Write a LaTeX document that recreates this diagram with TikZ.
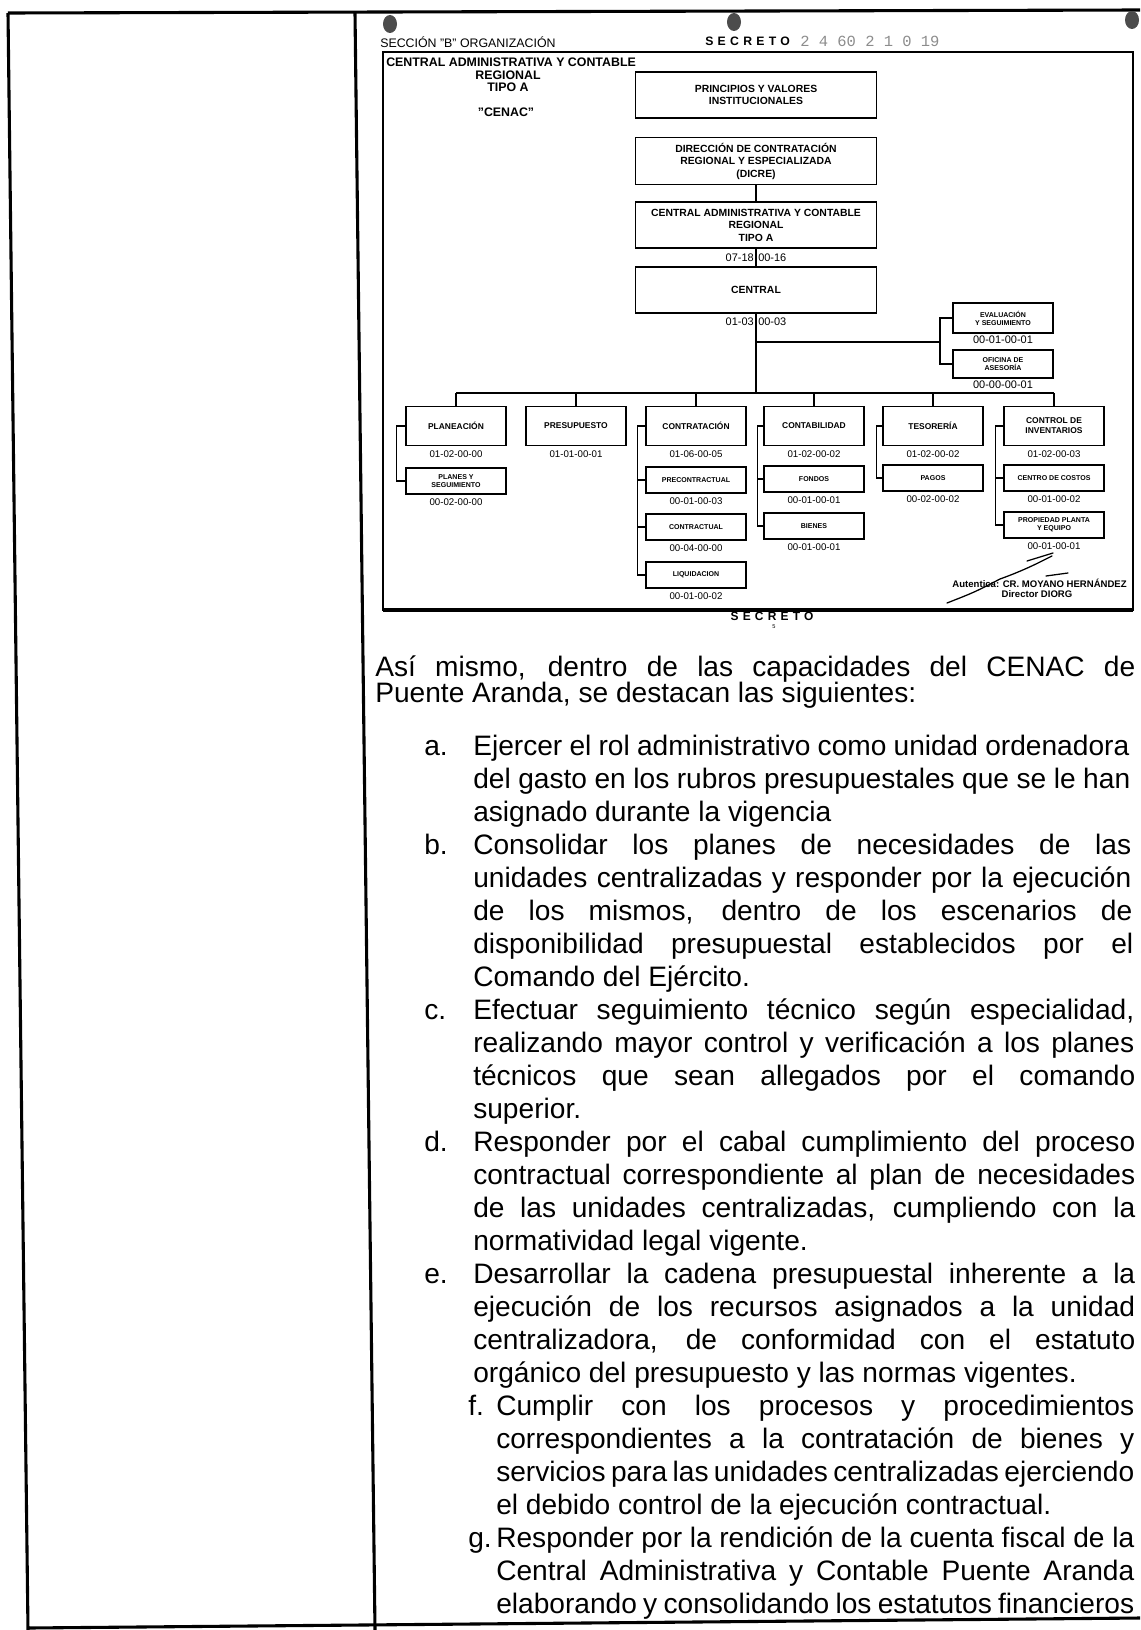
\documentclass[tikz,border=0pt]{standalone}
\usepackage{fontspec}
\setmainfont{Liberation Sans}
\newfontfamily\stampfont{Liberation Mono}
\newfontfamily\secretfont[LetterSpace=35]{Liberation Sans}
\usetikzlibrary{positioning}

\newlength\pxu
\setlength\pxu{0.025cm}
\newcommand{\jline}[2]{\makebox[#1\pxu][s]{#2}}

\tikzset{
  pagerule/.style={line width=2.2pt},
  chartline/.style={line width=1pt},
  unitbox/.style={draw, line width=1pt, inner sep=0pt, align=center,
    minimum width=100\pxu, minimum height=39\pxu,
    font=\bfseries\fontsize{6}{7.2}\selectfont},
  subbox/.style={unitbox, minimum height=26\pxu,
    font=\bfseries\fontsize{5}{5.8}\selectfont},
  staffbox/.style={subbox, minimum height=30\pxu},
  topbox/.style={unitbox, minimum width=241\pxu, minimum height=46\pxu,
    font=\bfseries\fontsize{7.4}{8.9}\selectfont},
  idcode/.style={inner sep=0pt, font=\fontsize{6.9}{7}\selectfont},
  bigcode/.style={idcode, font=\fontsize{7.8}{8}\selectfont},
  headline/.style={inner sep=0pt, font=\bfseries\fontsize{8.8}{9}\selectfont},
  bodytext/.style={anchor=base west, inner sep=0pt, font=\fontsize{20}{23}\selectfont},
  pen/.style={line width=0.9pt, line cap=round},
}

\begin{document}
\begin{tikzpicture}[x=0.025cm, y=-0.025cm]
  \useasboundingbox (0,0) rectangle (1140,1630);

  % page rules
  \draw[pagerule] (8,13) -- (28,1630);
  \draw[pagerule] (355,13) -- (375,1630);
  \draw[pagerule] (8,13) -- (1140,10);
  \draw[pagerule] (28,1628) -- (1140,1618);

  % punch marks and header
  \fill[black!70] (390,24) ellipse [x radius=7, y radius=9];
  \fill[black!70] (734,22) ellipse [x radius=7, y radius=9];
  \fill[black!70] (1132,20) ellipse [x radius=7, y radius=9];
  \node[anchor=west, inner sep=0pt, font=\fontsize{8.8}{9}\selectfont] (seccion) at (380,42) {SECCIÓN "B" ORGANIZACIÓN};
  \node[anchor=west, inner sep=0pt, font=\secretfont\bfseries\fontsize{8.7}{9}\selectfont] (secreto) at (705,41) {SECRETO};
  \node[anchor=west, inner sep=0pt, text=black!45, font=\stampfont\fontsize{11}{12}\selectfont] (folio) at (800,41) {2 4 60 2 1 0 19};

  % chart frame
  \draw[chartline] (383,52) rectangle (1133,610);
  \draw[pagerule] (383,610) -- (1133,610);

  \node[headline, anchor=west] (titulo) at (386,62) {CENTRAL ADMINISTRATIVA Y CONTABLE};
  \node[headline] (titreg) at (508,75) {REGIONAL};
  \node[headline] (tittipo) at (508,87) {TIPO A};
  \node[headline] (titcenac) at (506,112) {"CENAC"};

  % upper chain
  \node[topbox] (valores) at (756,95) {PRINCIPIOS Y VALORES\\INSTITUCIONALES};
  \node[topbox, minimum height=47\pxu] (dicre) at (756,161) {DIRECCIÓN DE CONTRATACIÓN\\REGIONAL Y ESPECIALIZADA\\(DICRE)};
  \node[topbox] (cenac) at (756,225) {CENTRAL ADMINISTRATIVA Y CONTABLE\\REGIONAL\\TIPO A};
  \node[topbox] (central) at (756,290) {CENTRAL};
  \draw[chartline] (dicre) -- (cenac);
  \draw[chartline] (cenac) -- (central);
  \node[bigcode, anchor=east] (cenaca) at (754,258) {07-18};
  \node[bigcode, anchor=west] (cenacb) at (758,258) {00-16};
  \node[bigcode, anchor=east] (centrala) at (754,322) {01-03};
  \node[bigcode, anchor=west] (centralb) at (758,322) {00-03};

  % staff
  \node[staffbox] (evalua) at (1003,318) {EVALUACIÓN\\Y SEGUIMIENTO};
  \node[bigcode, below=1.5pt of evalua] (evaluacode) {00-01-00-01};
  \node[staffbox, minimum height=28\pxu] (asesor) at (1003,364) {OFICINA DE\\ASESORÍA};
  \node[bigcode, below=1.5pt of asesor] (asesorcode) {00-00-00-01};
  \coordinate (staff) at (940,342);
  \coordinate (bar) at (756,393);
  \draw[chartline] (central) -- (bar);
  \draw[chartline] (central |- staff) -- (staff);
  \draw[chartline] (evalua.west) -| (staff) |- (asesor.west);

  % departments
  \node[unitbox] (plan) at (456,426) {PLANEACIÓN};
  \node[unitbox] (presu) at (576,426) {PRESUPUESTO};
  \node[unitbox] (contra) at (696,426) {CONTRATACIÓN};
  \node[unitbox] (conta) at (814,426) {CONTABILIDAD};
  \node[unitbox] (teso) at (933,426) {TESORERÍA};
  \node[unitbox] (inven) at (1054,426) {CONTROL DE\\INVENTARIOS};
  \draw[chartline] (plan.north |- bar) -- (inven.north |- bar);
  \foreach \u in {plan,presu,contra,conta,teso,inven}
    \draw[chartline] (\u.north) -- (\u.north |- bar);

  \node[idcode, below=3pt of plan] (plancode) {01-02-00-00};
  \node[idcode, below=3pt of presu] (presucode) {01-01-00-01};
  \node[idcode, below=3pt of contra] (contracode) {01-06-00-05};
  \node[idcode, below=3pt of conta] (contacode) {01-02-00-02};
  \node[idcode, below=3pt of teso] (tesocode) {01-02-00-02};
  \node[idcode, below=3pt of inven] (invencode) {01-02-00-03};

  % sections
  \node[subbox] (planseg) at (456,481) {PLANES Y\\SEGUIMIENTO};
  \node[idcode, below=3pt of planseg] (plansegcode) {00-02-00-00};
  \draw[chartline] (plan.west) -- ++(-9,0) |- (planseg.west);

  \node[subbox] (precon) at (696,480) {PRECONTRACTUAL};
  \node[idcode, below=3pt of precon] (preconcode) {00-01-00-03};
  \node[subbox] (contrac) at (696,527) {CONTRACTUAL};
  \node[idcode, below=3pt of contrac] (contraccode) {00-04-00-00};
  \node[subbox] (liquid) at (696,575) {LIQUIDACION};
  \node[idcode, below=3pt of liquid] (liquidcode) {00-01-00-02};
  \draw[chartline] (contra.west) -- ++(-8,0) |- (liquid.west);
  \draw[chartline] (precon.west) -- ++(-8,0);
  \draw[chartline] (contrac.west) -- ++(-8,0);

  \node[subbox] (fondos) at (814,479) {FONDOS};
  \node[idcode, below=3pt of fondos] (fondoscode) {00-01-00-01};
  \node[subbox] (bienes) at (814,526) {BIENES};
  \node[idcode, below=3pt of bienes] (bienescode) {00-01-00-01};
  \draw[chartline] (conta.west) -- ++(-6,0) |- (bienes.west);
  \draw[chartline] (fondos.west) -- ++(-6,0);

  \node[subbox] (pagos) at (933,478) {PAGOS};
  \node[idcode, below=3pt of pagos] (pagoscode) {00-02-00-02};
  \draw[chartline] (teso.west) -- ++(-6,0) |- (pagos.west);

  \node[subbox] (costos) at (1054,478) {CENTRO DE COSTOS};
  \node[idcode, below=3pt of costos] (costoscode) {00-01-00-02};
  \node[subbox] (equipo) at (1054,525) {PROPIEDAD PLANTA\\Y EQUIPO};
  \node[idcode, below=3pt of equipo] (equipocode) {00-01-00-01};
  \draw[chartline] (inven.west) -- ++(-8,0) |- (equipo.west);
  \draw[chartline] (costos.west) -- ++(-8,0);

  % signature
  \node[inner sep=0pt, anchor=east, font=\bfseries\fontsize{6.8}{7}\selectfont] (firma) at (1127,583) {Autentica: CR. MOYANO HERNÁNDEZ};
  \node[inner sep=0pt, font=\bfseries\fontsize{6.8}{7}\selectfont] (cargo) at (1037,594) {Director DIORG};
  \draw[pen] (947,603) .. controls (975,592) .. (1000,579) .. controls (1025,570) and (1040,562) .. (1052,556);
  \draw[pen] (1027,561) -- (1053,553);
  \draw[pen] (1046,576) -- (1068,573);

  \node[inner sep=0pt, font=\secretfont\bfseries\fontsize{8.5}{9}\selectfont] (secretob) at (772,616) {SECRETO};
  \node[inner sep=0pt, font=\fontsize{4}{4}\selectfont] (pagina) at (774,627) {5};

  % text
  \node[bodytext] (intro1) at (375,676) {\jline{760}{Así mismo, dentro de las capacidades del CENAC de}};
  \node[bodytext] (intro2) at (375,702) {Puente Aranda, se destacan las siguientes:};

  \node[bodytext] (la) at (424,755) {a.};
  \node[bodytext] (t1) at (473,755) {\jline{656}{Ejercer el rol administrativo como unidad ordenadora}};
  \node[bodytext] (t2) at (473,788) {\jline{657}{del gasto en los rubros presupuestales que se le han}};
  \node[bodytext] (t3) at (473,821) {asignado durante la vigencia};
  \node[bodytext] (lb) at (424,854) {b.};
  \node[bodytext] (t4) at (473,854) {\jline{658}{Consolidar los planes de necesidades de las}};
  \node[bodytext] (t5) at (473,887) {\jline{658}{unidades centralizadas y responder por la ejecución}};
  \node[bodytext] (t6) at (473,920) {\jline{659}{de los mismos, dentro de los escenarios de}};
  \node[bodytext] (t7) at (473,953) {\jline{660}{disponibilidad presupuestal establecidos por el}};
  \node[bodytext] (t8) at (473,986) {Comando del Ejército.};
  \node[bodytext] (lc) at (424,1019) {c.};
  \node[bodytext] (t9) at (473,1019) {\jline{661}{Efectuar seguimiento técnico según especialidad,}};
  \node[bodytext] (t10) at (473,1052) {\jline{661}{realizando mayor control y verificación a los planes}};
  \node[bodytext] (t11) at (473,1085) {\jline{662}{técnicos que sean allegados por el comando}};
  \node[bodytext] (t12) at (473,1118) {superior.};
  \node[bodytext] (ld) at (424,1151) {d.};
  \node[bodytext] (t13) at (473,1151) {\jline{662}{Responder por el cabal cumplimiento del proceso}};
  \node[bodytext] (t14) at (473,1184) {\jline{662}{contractual correspondiente al plan de necesidades}};
  \node[bodytext] (t15) at (473,1217) {\jline{662}{de las unidades centralizadas, cumpliendo con la}};
  \node[bodytext] (t16) at (473,1250) {normatividad legal vigente.};
  \node[bodytext] (le) at (424,1283) {e.};
  \node[bodytext] (t17) at (473,1283) {\jline{662}{Desarrollar la cadena presupuestal inherente a la}};
  \node[bodytext] (t18) at (473,1316) {\jline{662}{ejecución de los recursos asignados a la unidad}};
  \node[bodytext] (t19) at (473,1349) {\jline{662}{centralizadora, de conformidad con el estatuto}};
  \node[bodytext] (t20) at (473,1382) {orgánico del presupuesto y las normas vigentes.};
  \node[bodytext] (lf) at (468,1415) {f.};
  \node[bodytext] (t21) at (496,1415) {\jline{638}{Cumplir con los procesos y procedimientos}};
  \node[bodytext] (t22) at (496,1448) {\jline{638}{correspondientes a la contratación de bienes y}};
  \node[bodytext] (t23) at (496,1481) {\jline{638}{servicios para las unidades centralizadas ejerciendo}};
  \node[bodytext] (t24) at (496,1514) {el debido control de la ejecución contractual.};
  \node[bodytext] (lg) at (468,1547) {g.};
  \node[bodytext] (t25) at (496,1547) {\jline{638}{Responder por la rendición de la cuenta fiscal de la}};
  \node[bodytext] (t26) at (496,1580) {\jline{638}{Central Administrativa y Contable Puente Aranda}};
  \node[bodytext] (t27) at (496,1613) {\jline{638}{elaborando y consolidando los estatutos financieros}};
\end{tikzpicture}
\end{document}
